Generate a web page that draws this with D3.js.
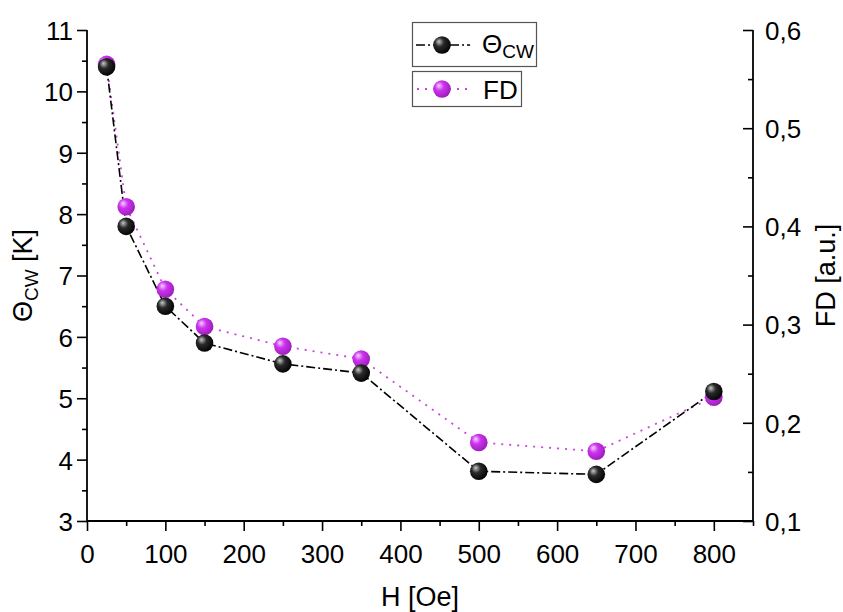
<!DOCTYPE html>
<html>
<head>
<meta charset="utf-8">
<script src="https://cdn.jsdelivr.net/npm/d3@7"></script>
<style>
  body { margin: 0; background: #fff; }
  svg { font-family: "Liberation Sans", Arial, sans-serif; }
</style>
</head>
<body>
<svg width="843" height="612"></svg>
<script>
const fieldH = [25, 50, 100, 150, 250, 350, 500, 650, 800];
const thetaCW = [10.4, 7.8, 6.5, 5.9, 5.56, 5.41, 3.81, 3.76, 5.11];
const fdValues = [0.565, 0.42, 0.336, 0.298, 0.278, 0.265, 0.18, 0.171, 0.226];
const xTicks = [0, 100, 200, 300, 400, 500, 600, 700, 800];
const yLeftTicks = [3, 4, 5, 6, 7, 8, 9, 10, 11];
const yRightTicks = [0.1, 0.2, 0.3, 0.4, 0.5, 0.6];

const svg = d3.select("svg");
const margin = {top: 30, right: 90, bottom: 91, left: 87};
const width = 843, height = 612;
const innerW = width - margin.left - margin.right;
const innerH = height - margin.top - margin.bottom;
const fsTick = "26px", fsTitle = "27px", fsSub = "19px";
const family = "Liberation Sans, Arial, sans-serif";

const x = d3.scaleLinear().domain([0, 850]).range([0, innerW]);
const yL = d3.scaleLinear().domain([3, 11]).range([innerH, 0]);
const yR = d3.scaleLinear().domain([0.1, 0.6]).range([innerH, 0]);

const defs = svg.append("defs");
function sphere(id, c0, c1, c2) {
    const gr = defs.append("radialGradient").attr("id", id)
        .attr("cx", "40%").attr("cy", "40%").attr("r", "65%")
        .attr("fx", "32%").attr("fy", "30%");
    gr.append("stop").attr("offset", "0%").attr("stop-color", c0);
    gr.append("stop").attr("offset", "40%").attr("stop-color", c1);
    gr.append("stop").attr("offset", "100%").attr("stop-color", c2);
}
sphere("gBlack", "#c8c8c8", "#2a2a2a", "#000");
sphere("gMag", "#f6d0ff", "#cc33ee", "#9b1cb8");

const g = svg.append("g").attr("transform", `translate(${margin.left},${margin.top})`);
const fmt = d3.format(".1f");

// bottom axis
const xAxis = g.append("g").attr("transform", `translate(0,${innerH})`);
xAxis.call(d3.axisBottom(x).tickValues(d3.range(0, 851, 50)).tickSize(5).tickFormat(""));
xAxis.selectAll(".tick line").filter(d => xTicks.includes(d)).attr("y2", 10);
xAxis.selectAll(".tick").filter(d => xTicks.includes(d)).append("text")
    .attr("y", 42).attr("fill", "#000").attr("text-anchor", "middle")
    .attr("font-size", fsTick).attr("font-family", family).text(d => d);

// left axis
const yAxisL = g.append("g");
yAxisL.call(d3.axisLeft(yL).tickValues(d3.range(3, 11.01, 0.5)).tickSize(5).tickFormat(""));
yAxisL.selectAll(".tick line").filter(d => yLeftTicks.includes(d)).attr("x2", -10);
yAxisL.selectAll(".tick").filter(d => yLeftTicks.includes(d)).append("text")
    .attr("x", -14).attr("dy", "0.36em").attr("fill", "#000").attr("text-anchor", "end")
    .attr("font-size", fsTick).attr("font-family", family).text(d => d);

// right axis (ticks inward)
const yAxisR = g.append("g").attr("transform", `translate(${innerW},0)`);
yAxisR.call(d3.axisLeft(yR).tickValues(d3.range(0.1, 0.601, 0.05)).tickSize(5).tickFormat(""));
yAxisR.selectAll(".tick line").filter((d, i) => i % 2 === 0).attr("x2", -10);
yAxisR.selectAll(".tick").filter((d, i) => i % 2 === 0).append("text")
    .attr("x", 12).attr("dy", "0.36em").attr("fill", "#000").attr("text-anchor", "start")
    .attr("font-size", fsTick).attr("font-family", family)
    .text(d => fmt(d).replace(".", ","));

[xAxis, yAxisL, yAxisR].forEach(a => {
    a.attr("font-size", null).attr("font-family", null);
    a.select(".domain").attr("stroke", "#000").attr("stroke-width", 1.8)
        .attr("d", a === xAxis ? `M0,0H${innerW}` : `M0,0V${innerH}`);
    a.selectAll(".tick line").attr("stroke", "#000").attr("stroke-width", 1.6);
});

// lines
const lineL = d3.line().x((d, i) => x(fieldH[i])).y(d => yL(d));
const lineR = d3.line().x((d, i) => x(fieldH[i])).y(d => yR(d));

g.append("path").datum(fdValues).attr("d", lineR)
    .attr("fill", "none").attr("stroke", "#cc44dd").attr("stroke-width", 1.8)
    .attr("stroke-dasharray", "2,6");
g.append("path").datum(thetaCW).attr("d", lineL)
    .attr("fill", "none").attr("stroke", "#000").attr("stroke-width", 1.6)
    .attr("stroke-dasharray", "9,3,2,3");

g.selectAll(".fd").data(fdValues).join("circle")
    .attr("cx", (d, i) => x(fieldH[i])).attr("cy", d => yR(d))
    .attr("r", 8.8).attr("fill", "url(#gMag)");
g.selectAll(".th").data(thetaCW).join("circle")
    .attr("cx", (d, i) => x(fieldH[i])).attr("cy", d => yL(d))
    .attr("r", 8.8).attr("fill", "url(#gBlack)");

// legend
const leg = svg.append("g");
leg.append("rect").attr("x", 412.5).attr("y", 22.5).attr("width", 124).attr("height", 44)
    .attr("fill", "#fff").attr("stroke", "#555").attr("stroke-width", 1.2);
leg.append("rect").attr("x", 412.5).attr("y", 71.5).attr("width", 109).attr("height", 35)
    .attr("fill", "#fff").attr("stroke", "#555").attr("stroke-width", 1.2);
leg.append("line").attr("x1", 416).attr("x2", 470).attr("y1", 45).attr("y2", 45)
    .attr("stroke", "#000").attr("stroke-width", 1.6).attr("stroke-dasharray", "9,3,2,3");
leg.append("circle").attr("cx", 442).attr("cy", 45).attr("r", 8.8).attr("fill", "url(#gBlack)");
leg.append("line").attr("x1", 417).attr("x2", 470).attr("y1", 89).attr("y2", 89)
    .attr("stroke", "#cc44dd").attr("stroke-width", 1.8).attr("stroke-dasharray", "2,6");
leg.append("circle").attr("cx", 442).attr("cy", 89).attr("r", 8.8).attr("fill", "url(#gMag)");
const t1 = leg.append("text").attr("x", 482).attr("y", 53).attr("font-size", fsTick);
t1.append("tspan").text("Θ");
t1.append("tspan").attr("dy", 5).attr("font-size", fsSub).text("CW");
leg.append("text").attr("x", 483).attr("y", 99).attr("font-size", fsTick).text("FD");

// axis titles
svg.append("text").attr("x", margin.left + x(425)).attr("y", 606)
    .attr("text-anchor", "middle").attr("font-size", fsTitle).text("H [Oe]");
const tl = svg.append("text").attr("transform", `translate(32,${margin.top + innerH / 2}) rotate(-90)`)
    .attr("text-anchor", "middle").attr("font-size", fsTitle);
tl.append("tspan").text("Θ");
tl.append("tspan").attr("dy", 6).attr("font-size", fsSub).text("CW");
tl.append("tspan").attr("dy", -6).text(" [K]");
svg.append("text").attr("transform", `translate(835,${margin.top + innerH / 2}) rotate(-90)`)
    .attr("text-anchor", "middle").attr("font-size", fsTitle).text("FD [a.u.]");
</script>
</body>
</html>
